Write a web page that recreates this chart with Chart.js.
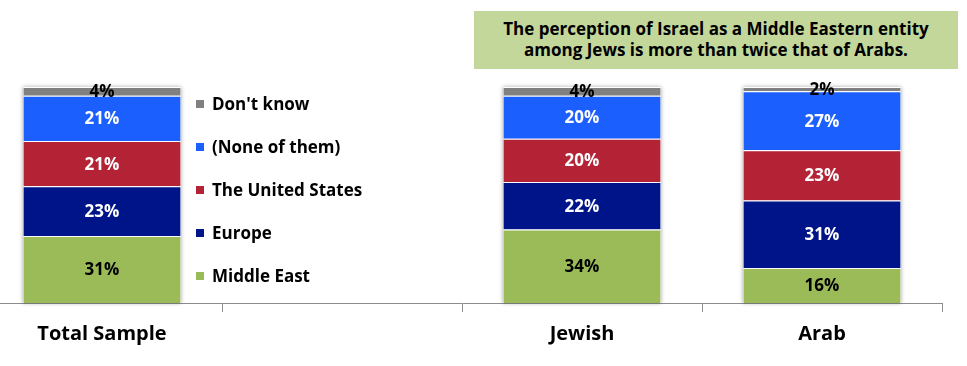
<!DOCTYPE html>
<html>
<head>
<meta charset="utf-8">
<script src="https://cdn.jsdelivr.net/npm/chart.js@4"></script>
<style>
  html, body { margin: 0; padding: 0; background: #fff; overflow: hidden; }
  #wrap { position: relative; width: 967px; height: 366px; overflow: hidden; }
  #chart { position: absolute; left: -18px; top: 0; }
  #note {
    position: absolute; left: 474px; top: 11px; width: 484px; height: 58px;
    background: #c4d79b; font: bold 17px "Open Sans", sans-serif; color: #000;
    text-align: center; line-height: 21px; box-sizing: border-box; padding-top: 7px;
  }
</style>
</head>
<body>
<div id="wrap">
  <canvas id="chart" width="985" height="366"></canvas>
  <div id="note">The perception of Israel as a Middle Eastern entity<br>among Jews is more than twice that of Arabs.</div>
</div>
<script>
const categories = ['Total Sample', '', 'Jewish', 'Arab'];
const middleEast = [31, null, 34, 16];
const europe = [23, null, 22, 31];
const unitedStates = [21, null, 20, 23];
const noneOfThem = [21, null, 20, 27];
const dontKnow = [4, null, 4, 2];

const seriesNames = ['Middle East', 'Europe', 'The United States', '(None of them)', "Don't know"];
const seriesValues = [middleEast, europe, unitedStates, noneOfThem, dontKnow];
const seriesColors = ['#9bbb59', '#00148a', '#b32235', '#1b5fff', '#808080'];
const labelColors = ['#000', '#fff', '#fff', '#fff', '#000'];

// 100% stacked: each column scaled to its total
const totals = categories.map((c, i) => seriesValues.reduce((s, arr) => s + (arr[i] || 0), 0));

const datasets = seriesValues.map((arr, k) => ({
  label: seriesNames[k],
  raw: arr,
  data: arr.map((v, i) => v == null ? null : v / totals[i] * 100),
  backgroundColor: seriesColors[k],
  borderColor: '#fff',
  borderWidth: { top: 1, bottom: 0, left: 0, right: 0 },
  borderSkipped: false,
  barPercentage: 1,
  categoryPercentage: 0.655
}));

const FONT = '"Open Sans", sans-serif';

const stackShadow = {
  id: 'stackShadow',
  beforeDatasetsDraw(chart) {
    const ctx = chart.ctx;
    const x = chart.scales.x, y = chart.scales.y;
    const w = x.getPixelForValue(1) - x.getPixelForValue(0);
    ctx.save();
    ctx.shadowColor = 'rgba(0,0,0,0.35)';
    ctx.shadowBlur = 4;
    ctx.fillStyle = '#fff';
    categories.forEach((c, i) => {
      if (!totals[i]) return;
      const cx = x.getPixelForValue(i);
      const bw = w * 0.655;
      ctx.fillRect(cx - bw / 2, y.getPixelForValue(100), bw, y.getPixelForValue(0) - y.getPixelForValue(100));
    });
    ctx.restore();
  }
};

const valueLabels = {
  id: 'valueLabels',
  afterDatasetsDraw(chart) {
    const ctx = chart.ctx;
    ctx.save();
    ctx.font = 'bold 17px ' + FONT;
    ctx.textAlign = 'center';
    ctx.textBaseline = 'middle';
    chart.data.datasets.forEach((ds, k) => {
      chart.getDatasetMeta(k).data.forEach((el, i) => {
        const v = ds.raw[i];
        if (v == null) return;
        ctx.fillStyle = labelColors[k];
        ctx.fillText(v + '%', el.x, (el.y + el.base) / 2 + 1);
      });
    });
    ctx.restore();
  }
};

const sideLegend = {
  id: 'sideLegend',
  afterDraw(chart) {
    const ctx = chart.ctx;
    ctx.save();
    ctx.font = 'bold 17px ' + FONT;
    ctx.textBaseline = 'middle';
    ctx.textAlign = 'left';
    const items = chart.data.datasets.slice().reverse();
    items.forEach((ds, j) => {
      const yy = 104 + j * 43;
      ctx.fillStyle = ds.backgroundColor;
      ctx.fillRect(214, yy - 4, 8, 8);
      ctx.fillStyle = '#000';
      ctx.fillText(ds.label, 230, yy + 1);
    });
    ctx.restore();
  }
};

new Chart(document.getElementById('chart'), {
  type: 'bar',
  data: { labels: categories, datasets: datasets },
  options: {
    responsive: false,
    animation: false,
    layout: { padding: { top: 87, right: 25, left: 0, bottom: 0 } },
    plugins: { legend: { display: false }, tooltip: { enabled: false } },
    scales: {
      x: {
        stacked: true,
        offset: true,
        grid: { offset: true, drawOnChartArea: false, color: '#8c8c8c', tickLength: 9, tickColor: '#8c8c8c' },
        border: { display: true, color: '#8c8c8c', width: 1 },
        ticks: { color: '#000', font: { family: FONT, size: 20, weight: 'bold' }, padding: 10 },
        afterFit(scale) { scale.height = 63; }
      },
      y: {
        stacked: true,
        display: false,
        min: 0,
        max: 100
      }
    }
  },
  plugins: [stackShadow, valueLabels, sideLegend]
});
</script>
</body>
</html>
